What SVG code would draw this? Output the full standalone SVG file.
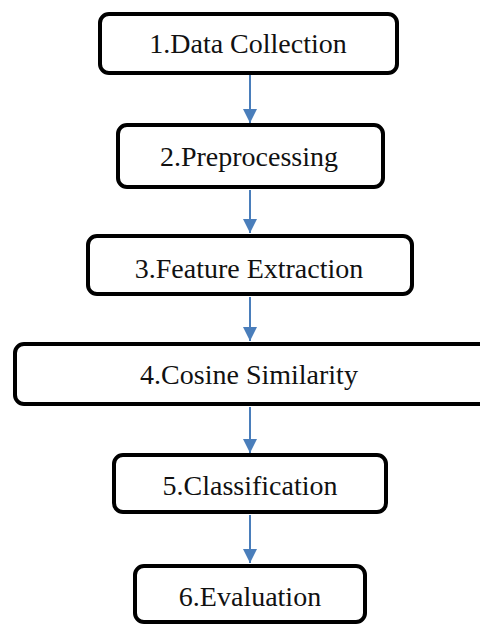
<svg xmlns="http://www.w3.org/2000/svg" width="480" height="626" viewBox="0 0 480 626">
<style>
.box{fill:#fff;stroke:#000;stroke-width:4}
.conn{stroke:#4a7ebb;stroke-width:2;fill:none}
</style>
<defs>
<marker id="ah" viewBox="0 0 10 10" refX="10" refY="5" markerUnits="userSpaceOnUse" markerWidth="14" markerHeight="14" orient="auto">
<path d="M0,0 L10,5 L0,10 Z" fill="#4a7ebb"/>
</marker>
</defs>
<rect width="480" height="626" fill="#fff"/>
<g id="connectors">
<line class="conn" x1="250" y1="75" x2="250" y2="123" marker-end="url(#ah)"/>
<line class="conn" x1="250" y1="190" x2="250" y2="233" marker-end="url(#ah)"/>
<line class="conn" x1="250" y1="297" x2="250" y2="341" marker-end="url(#ah)"/>
<line class="conn" x1="250" y1="407" x2="250" y2="453" marker-end="url(#ah)"/>
<line class="conn" x1="250" y1="515" x2="250" y2="563" marker-end="url(#ah)"/>
</g>
<g font-family="Liberation Serif, Times New Roman, Times, serif" font-size="28" fill="#111" text-anchor="middle">
<g id="n1"><rect class="box" x="100" y="14" width="297" height="59" rx="9"/><text x="248" y="53">1.Data Collection</text></g>
<g id="n2"><rect class="box" x="118" y="125" width="265" height="62" rx="9"/><text x="249" y="166">2.Preprocessing</text></g>
<g id="n3"><rect class="box" x="88" y="236" width="324" height="58" rx="9"/><text x="249" y="278">3.Feature Extraction</text></g>
<g id="n4"><rect class="box" x="15" y="344" width="480" height="60" rx="9"/><text x="249" y="384">4.Cosine Similarity</text></g>
<g id="n5"><rect class="box" x="114" y="455" width="272" height="57" rx="9"/><text x="250" y="495">5.Classification</text></g>
<g id="n6"><rect class="box" x="135" y="566" width="230" height="56" rx="9"/><text x="250" y="606">6.Evaluation</text></g>
</g>
</svg>
